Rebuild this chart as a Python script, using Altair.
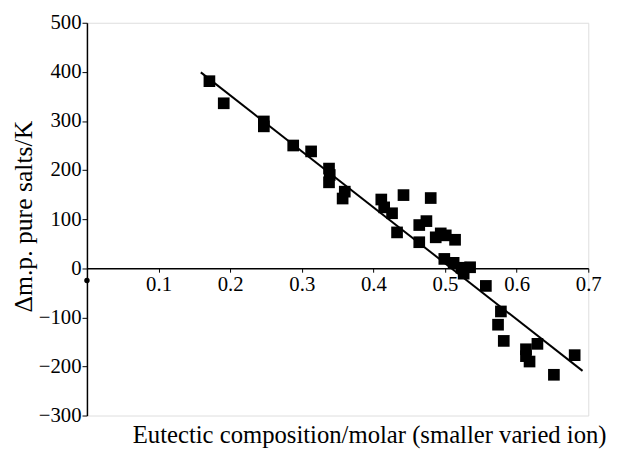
import altair as alt
import pandas as pd

# Scatter data (eutectic composition vs. melting-point difference)
comp = [0.171, 0.191, 0.247, 0.247, 0.288, 0.313, 0.338, 0.339, 0.338, 0.360,
        0.357, 0.411, 0.415, 0.426, 0.442, 0.433, 0.480, 0.474, 0.464, 0.464,
        0.487, 0.494, 0.501, 0.514, 0.499, 0.512, 0.523, 0.535, 0.526, 0.557,
        0.578, 0.574, 0.582, 0.613, 0.613, 0.618, 0.629, 0.652, 0.681]
dmp = [381, 336, 299, 289, 250, 238, 203, 190, 175, 156,
       142, 140, 124, 112, 149, 73, 143, 96, 88, 53,
       63, 71, 67, 58, 19, 11, 1, 2, -11, -36,
       -88, -115, -148, -165, -179, -190, -154, -217, -177]

# Fitted line end points
line_x = [0.159, 0.692]
line_y = [399, -209]

# small mark on the y axis just below the origin
dot_x = [0]
dot_y = [-25]

x_ticks = [0.1, 0.2, 0.3, 0.4, 0.5, 0.6, 0.7]
y_ticks = [-300, -200, -100, 0, 100, 200, 300, 400, 500]

FONT = "Liberation Serif"
W, H = 508, 398

pts = pd.DataFrame({"x": comp, "y": dmp})
ln = pd.DataFrame({"x": line_x, "y": line_y})
dot = pd.DataFrame({"x": dot_x, "y": dot_y})

xscale = alt.Scale(domain=[0, 0.7], nice=False, zero=False)
yscale = alt.Scale(domain=[-300, 500], nice=False, zero=False)

zero_offset = -(H * 300 / 800)

xaxis = alt.Axis(values=x_ticks, format=".1f", grid=False,
                 offset=zero_offset, domainColor="black", domainWidth=1.5,
                 tickColor="black", tickSize=4, tickWidth=1,
                 labelFont=FONT, labelFontSize=21, labelColor="black",
                 labelPadding=2, labelFlush=False,
                 title="Eutectic composition/molar (smaller varied ion)",
                 titleFont=FONT, titleFontSize=25, titleFontWeight="normal",
                 titleColor="black", titleX=286, titleY=169,
                 titleAlign="center", titleBaseline="middle")

yaxis = alt.Axis(values=y_ticks, format="d", grid=False,
                 domainColor="black", domainWidth=1.5,
                 tickColor="black", tickSize=5, tickWidth=1,
                 labelFont=FONT, labelFontSize=21, labelColor="black",
                 labelPadding=1,
                 title="Δm.p. pure salts/K",
                 titleFont=FONT, titleFontSize=26, titleFontWeight="normal",
                 titleColor="black", titleX=-64, titleY=196,
                 titleAlign="center", titleBaseline="middle", titleAngle=270)

points = alt.Chart(pts).mark_point(shape="square", filled=True, size=140,
                                   color="black", opacity=1).encode(
    x=alt.X("x:Q", scale=xscale, axis=xaxis),
    y=alt.Y("y:Q", scale=yscale, axis=yaxis),
)

line = alt.Chart(ln).mark_line(color="black", strokeWidth=2).encode(
    x=alt.X("x:Q", scale=xscale),
    y=alt.Y("y:Q", scale=yscale),
)

dotmark = alt.Chart(dot).mark_point(shape="circle", filled=True, size=30,
                                    color="black", opacity=1).encode(
    x=alt.X("x:Q", scale=xscale),
    y=alt.Y("y:Q", scale=yscale),
)

chart = alt.layer(line, points, dotmark).properties(
    width=W, height=H,
    autosize=alt.AutoSizeParams(type="none"),
    padding={"left": 80, "top": 12, "right": 21, "bottom": 35},
).configure_view(stroke="transparent").configure(background="white")

chart.save("out.html", embed_options={"renderer": "svg", "actions": False})
